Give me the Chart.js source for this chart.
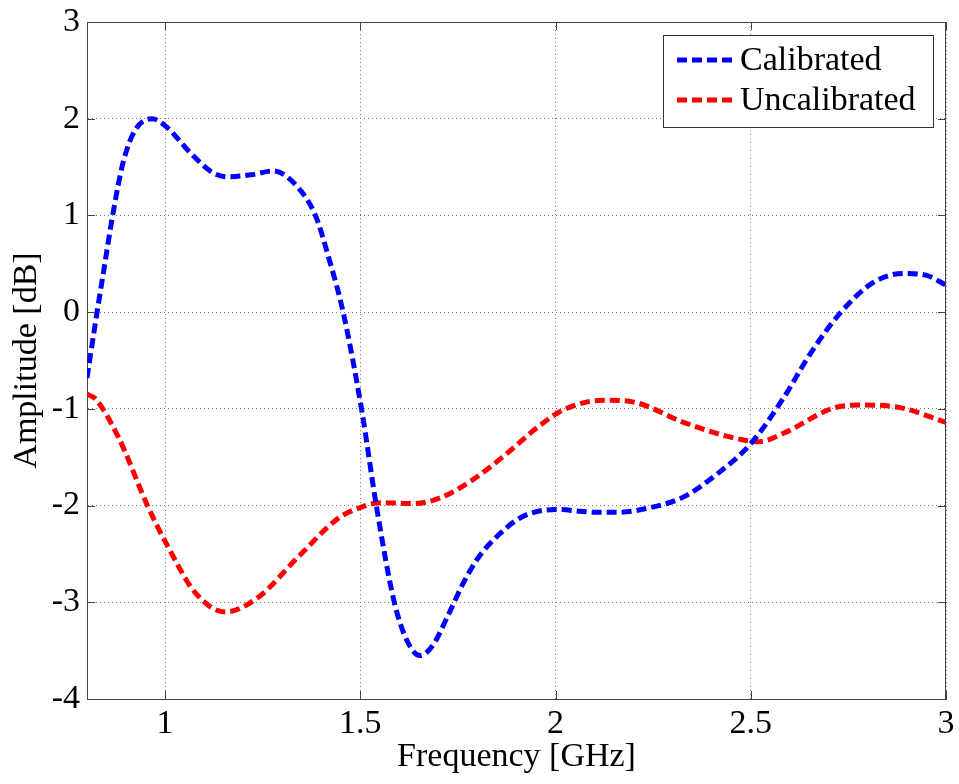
<!DOCTYPE html>
<html>
<head>
<meta charset="utf-8">
<script src="https://cdn.jsdelivr.net/npm/chart.js@4.4.1/dist/chart.umd.min.js"></script>
<style>
  html, body { margin: 0; padding: 0; background: #fff; }
  #wrap { width: 959px; height: 784px; }
</style>
</head>
<body>
<div id="wrap"><canvas id="ampChart"></canvas></div>
<script>
// Frequency points [GHz] and amplitudes [dB] for each trace
const freqCal = [0.80, 0.82, 0.846, 0.867, 0.892, 0.923, 0.967, 1.005, 1.064, 1.123, 1.16, 1.22, 1.277, 1.338,
  1.385, 1.42, 1.456, 1.503, 1.541, 1.587, 1.62, 1.652, 1.685, 1.723, 1.764, 1.80, 1.855, 1.90, 1.936,
  2.00, 2.108, 2.16, 2.244, 2.328, 2.415, 2.50, 2.585, 2.654, 2.731, 2.815, 2.892, 2.95, 3.00];
const ampCal = [-0.68, -0.15, 0.51, 1.03, 1.54, 1.88, 2.00, 1.91, 1.65, 1.44, 1.40, 1.42, 1.46, 1.30,
  1.00, 0.55, 0.00, -1.00, -2.00, -3.00, -3.40, -3.55, -3.45, -3.15, -2.80, -2.55, -2.30, -2.15, -2.08,
  -2.04, -2.07, -2.07, -2.02, -1.91, -1.67, -1.36, -0.88, -0.42, 0.00, 0.31, 0.40, 0.38, 0.28];

const freqUncal = [0.80, 0.82, 0.88, 0.956, 1.008, 1.077, 1.154, 1.238, 1.341, 1.444, 1.50, 1.55, 1.636,
  1.705, 1.782, 1.867, 1.954, 2.02, 2.123, 2.20, 2.328, 2.456, 2.52, 2.585, 2.713, 2.79, 2.885, 3.00];
const ampUncal = [-0.85, -0.89, -1.29, -2.01, -2.43, -2.90, -3.10, -2.95, -2.53, -2.13, -2.02, -1.97, -1.98,
  -1.92, -1.75, -1.49, -1.19, -1.01, -0.91, -0.93, -1.14, -1.30, -1.34, -1.25, -0.99, -0.96, -0.99, -1.14];

const xTicks = [1, 1.5, 2, 2.5, 3];
const yTicks = [-4, -3, -2, -1, 0, 1, 2, 3];

const FONT = 'Liberation Serif, Times New Roman, serif';

const toPoints = (xs, ys) => xs.map((x, i) => ({ x: x, y: ys[i] }));

// Box around the plot with inward tick marks on all four sides
const axesFrame = {
  id: 'axesFrame',
  afterDraw(chart) {
    const { ctx, chartArea: a, scales } = chart;
    ctx.save();
    ctx.strokeStyle = '#444';
    ctx.lineWidth = 1;
    ctx.beginPath();
    ctx.moveTo(a.left, a.top + 0.5);
    ctx.lineTo(a.right, a.top + 0.5);
    ctx.moveTo(a.right - 0.5, a.top);
    ctx.lineTo(a.right - 0.5, a.bottom);
    const len = 8;
    xTicks.forEach(v => {
      const px = Math.round(scales.x.getPixelForValue(v)) + 0.5;
      ctx.moveTo(px, a.bottom); ctx.lineTo(px, a.bottom - len);
      ctx.moveTo(px, a.top); ctx.lineTo(px, a.top + len);
    });
    yTicks.forEach(v => {
      const py = Math.round(scales.y.getPixelForValue(v)) + 0.5;
      ctx.moveTo(a.left, py); ctx.lineTo(a.left + len, py);
      ctx.moveTo(a.right, py); ctx.lineTo(a.right - len, py);
    });
    ctx.stroke();
    ctx.restore();
  }
};

// Boxed legend in the upper right corner of the plot
const boxLegend = {
  id: 'boxLegend',
  afterDatasetsDraw(chart) {
    const { ctx, chartArea: a } = chart;
    const w = 270, h = 92;
    const left = a.right - 13 - w, top = a.top + 13;
    ctx.save();
    ctx.fillStyle = '#fff';
    ctx.fillRect(left, top, w, h);
    ctx.strokeStyle = '#333';
    ctx.lineWidth = 1;
    ctx.strokeRect(left + 0.5, top + 0.5, w, h);
    chart.data.datasets.forEach((ds, i) => {
      const y = top + 25 + i * 40;
      ctx.strokeStyle = ds.borderColor;
      ctx.lineWidth = ds.borderWidth;
      ctx.setLineDash(ds.borderDash);
      ctx.beginPath();
      ctx.moveTo(left + 14, y);
      ctx.lineTo(left + 70, y);
      ctx.stroke();
      ctx.setLineDash([]);
      ctx.fillStyle = '#000';
      ctx.font = '34px ' + FONT;
      ctx.textBaseline = 'middle';
      ctx.fillText(ds.label, left + 77, y + 1);
    });
    ctx.restore();
  }
};

new Chart(document.getElementById('ampChart'), {
  type: 'line',
  data: {
    datasets: [{
      label: 'Calibrated',
      data: toPoints(freqCal, ampCal),
      borderColor: '#0000ff',
      borderWidth: 5,
      borderDash: [10, 5],
      pointRadius: 0,
      cubicInterpolationMode: 'monotone',
      fill: false
    }, {
      label: 'Uncalibrated',
      data: toPoints(freqUncal, ampUncal),
      borderColor: '#ff0000',
      borderWidth: 5,
      borderDash: [10, 5],
      pointRadius: 0,
      cubicInterpolationMode: 'monotone',
      fill: false
    }]
  },
  options: {
    responsive: true,
    maintainAspectRatio: false,
    animation: false,
    layout: { padding: { top: 22, right: 13, bottom: 0, left: 0 } },
    plugins: { legend: { display: false }, tooltip: { enabled: false } },
    scales: {
      x: {
        type: 'linear',
        min: 0.8,
        max: 3,
        afterBuildTicks: s => { s.ticks = xTicks.map(v => ({ value: v })); },
        afterFit: s => { s.height = 85; s.paddingLeft = 0; s.paddingRight = 0; },
        ticks: {
          color: '#000',
          font: { family: FONT, size: 34 },
          padding: 5,
          maxRotation: 0,
          callback: v => String(v)
        },
        grid: { color: '#777', lineWidth: 1, drawTicks: false },
        border: { color: '#444', width: 1, dash: [1, 3] },
        title: {
          display: true,
          text: 'Frequency [GHz]',
          color: '#000',
          font: { family: FONT, size: 34 },
          padding: { top: 0, bottom: 7 }
        }
      },
      y: {
        min: -4,
        max: 3,
        afterBuildTicks: s => { s.ticks = yTicks.map(v => ({ value: v })); },
        afterFit: s => { s.width = 87; s.paddingTop = 0; s.paddingBottom = 0; },
        ticks: {
          color: '#000',
          font: { family: FONT, size: 34 },
          padding: 7,
          callback: v => String(v)
        },
        grid: { color: '#777', lineWidth: 1, drawTicks: false },
        border: { color: '#444', width: 1, dash: [1, 3] },
        title: {
          display: true,
          text: 'Amplitude [dB]',
          color: '#000',
          font: { family: FONT, size: 34 },
          padding: { top: 7, bottom: 0 }
        }
      }
    }
  },
  plugins: [boxLegend, axesFrame]
});
</script>
</body>
</html>
